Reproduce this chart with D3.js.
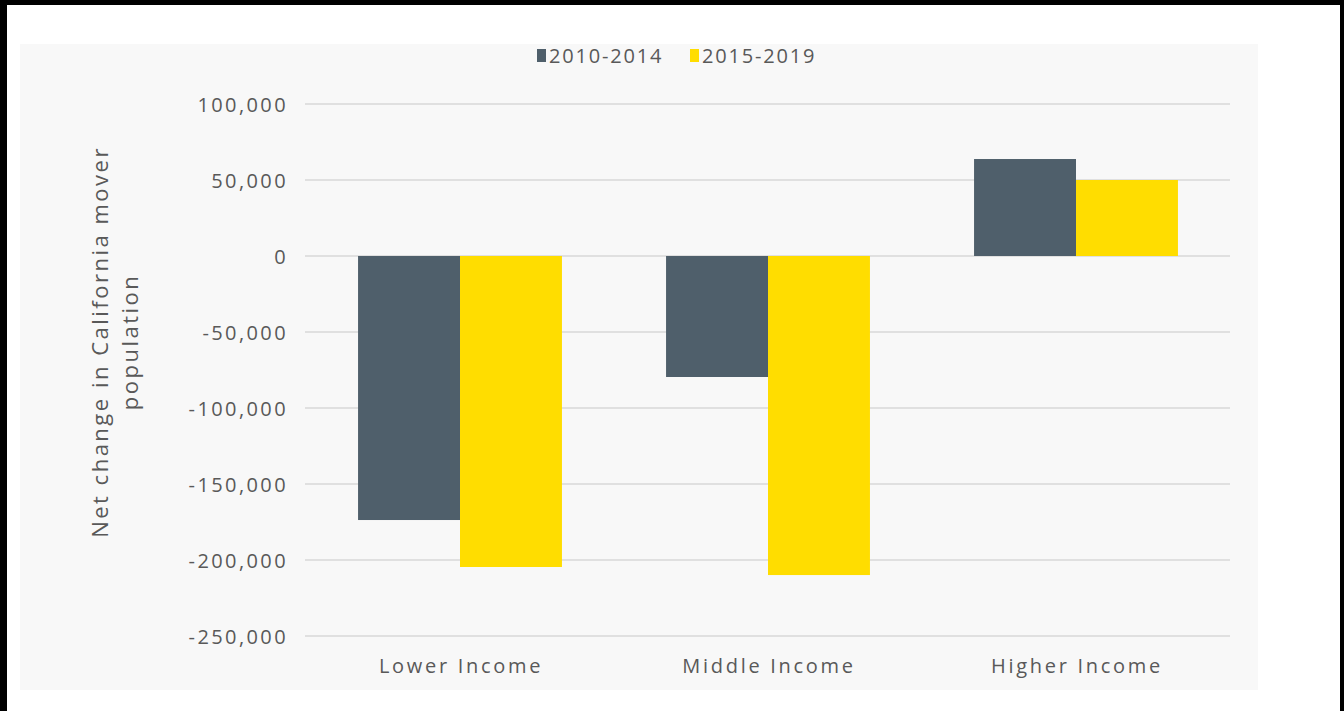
<!DOCTYPE html>
<html><head><meta charset="utf-8">
<script src="https://cdn.jsdelivr.net/npm/d3@7"></script>
<style>
html,body{margin:0;padding:0;background:#fff;}
svg{display:block;}
text{font-family:"Open Sans",sans-serif;fill:#595959;}
</style></head>
<body>
<script>
const categories = ["Lower Income", "Middle Income", "Higher Income"];
const seriesNames = ["2010-2014", "2015-2019"];
const values2010_2014 = [-173700, -79600, 63800];
const values2015_2019 = [-204600, -209900, 50000];
const tickValues = [100000, 50000, 0, -50000, -100000, -150000, -200000, -250000];
const yTitleLines = ["Net change in California mover", "population"];
const colors = ["#4f5f6b", "#ffdd00"];

const W = 1344, H = 711;
const svg = d3.select("body").append("svg").attr("width", W).attr("height", H);

// frame
svg.append("rect").attr("x",0).attr("y",0).attr("width",W).attr("height",H).attr("fill","#000");
svg.append("rect").attr("x",7).attr("y",5).attr("width",W-11).attr("height",H-5).attr("fill","#fff");
svg.append("rect").attr("x",20).attr("y",44).attr("width",1238).attr("height",646).attr("fill","#f8f8f8");

const x0 = d3.scaleBand().domain(categories).range([306, 1230]).paddingInner(0.338).paddingOuter(0.169);
const x1 = d3.scaleBand().domain(seriesNames).range([0, x0.bandwidth()]);
const y = d3.scaleLinear().domain([-250000, 100000]).range([636, 104]);

// grid
svg.append("g").selectAll("line").data(tickValues).join("line")
  .attr("x1",305).attr("x2",1230)
  .attr("y1",d=>y(d)).attr("y2",d=>y(d))
  .attr("stroke","#d9d9d9").attr("stroke-width",1.5);

// y axis labels
const fmt = d3.format(",");
const yAxis = d3.axisLeft(y).tickValues(tickValues).tickSize(0).tickPadding(0)
  .tickFormat(d => fmt(d).replace("\u2212", "-"));
const gy = svg.append("g").attr("transform","translate(288,0)").call(yAxis);
gy.select(".domain").remove();
gy.selectAll("text").style("font-size","20px").style("letter-spacing","2.4px")
  .attr("fill","#595959").attr("dy","0.35em");

// bars
const data = categories.map((c,i)=>({cat:c, vals:[values2010_2014[i], values2015_2019[i]]}));
const groups = svg.append("g").selectAll("g").data(data).join("g")
  .attr("transform", d=>`translate(${x0(d.cat)},0)`);
groups.selectAll("rect").data(d=>d.vals.map((v,j)=>({v, s:seriesNames[j], j})))
  .join("rect")
  .attr("x", d=>x1(d.s))
  .attr("width", x1.bandwidth())
  .attr("y", d=>y(Math.max(0,d.v)))
  .attr("height", d=>Math.abs(y(d.v)-y(0)))
  .attr("fill", d=>colors[d.j]);

// x axis labels
const xAxis = d3.axisBottom(x0).tickSize(0).tickPadding(0);
const gx = svg.append("g").attr("transform","translate(1,659)").call(xAxis);
gx.select(".domain").remove();
gx.selectAll("text").style("font-size","20px").style("letter-spacing","2.7px").attr("fill","#595959").attr("dy","0.71em");

// y title
const yt = svg.append("text")
  .attr("transform","translate(108,342) rotate(-90)")
  .attr("text-anchor","middle")
  .style("font-size","22px").style("letter-spacing","2.5px");
yt.selectAll("tspan").data(yTitleLines).join("tspan")
  .attr("x",0).attr("dy",(d,i)=>i===0?"0em":"1.35em").text(d=>d);

// legend
const legendX = [537, 690];
const lg = svg.append("g").selectAll("g").data(seriesNames).join("g")
  .attr("transform",(d,i)=>`translate(${legendX[i]},49)`);
lg.append("rect").attr("width",9).attr("height",13).attr("fill",(d,i)=>colors[i]);
lg.append("text").attr("x",12).attr("y",7).attr("dy","0.35em")
  .style("font-size","20px").style("letter-spacing","1.8px").text(d=>d);
</script>
</body></html>
